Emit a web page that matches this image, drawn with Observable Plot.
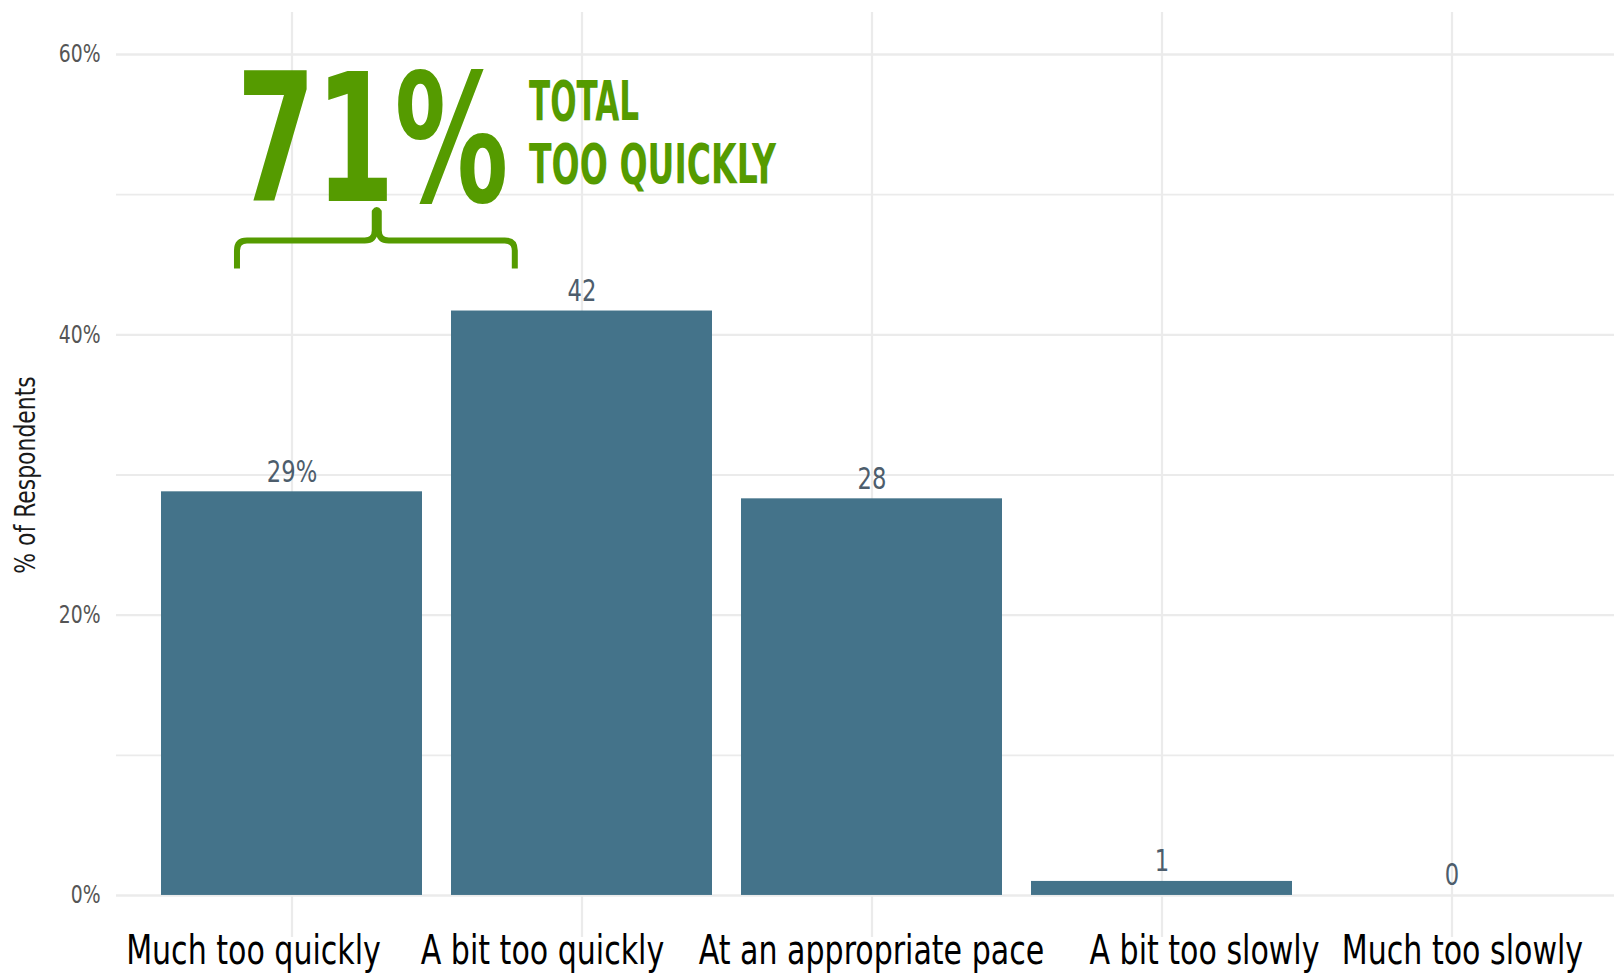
<!DOCTYPE html>
<html>
<head>
<meta charset="utf-8">
<script src="https://cdn.jsdelivr.net/npm/d3@7"></script>
<script src="https://cdn.jsdelivr.net/npm/@observablehq/plot@0.6"></script>
<style>
  html, body { margin: 0; padding: 0; background: #fff; overflow: hidden; }
  #chart svg { display: block; }
</style>
</head>
<body>
<div id="chart"></div>
<script>
// ---- data ----
const categories = ["Much too quickly", "A bit too quickly", "At an appropriate pace", "A bit too slowly", "Much too slowly"];
const shares = [28.8, 41.7, 28.3, 1.0, 0];
const valueLabels = ["29%", "42", "28", "1", "0"];
const yTicks = [0, 20, 40, 60];
const yMinorTicks = [10, 30, 50];
const yTitle = "% of Respondents";
const totalValue = "71%";
const totalLines = ["TOTAL", "TOO QUICKLY"];

// ---- layout / style ----
const FONT = "'Liberation Sans Narrow', 'Arial Narrow', 'DejaVu Sans Condensed', sans-serif";
const GREEN = "#559b00";
const BAR = "#44738a";
const GRID = "#ebebeb";
const labelNudge = [-38, -39, 0, 43, 11]; // px shift of category labels
const anno = {
  bracketLeft: -0.188, bracketRight: 0.770, bracketMid: 0.294, // offsets in category steps from first category centre
  yBar: 46.7, yLeg: 44.7, yTip: 48.9,
  bigLeft: -0.19, bigBase: 49.54,
  textLeft: 0.819, line1Base: 55.3, line2Base: 50.8
};

const rows = categories.map((c, i) => ({category: c, share: shares[i], label: valueLabels[i]}));

function annotation(...args) {
  const scales = args.find(a => a && typeof a.x === "function" && typeof a.y === "function");
  const x = scales.x, y = scales.y;
  const bw = typeof x.bandwidth === "function" ? x.bandwidth() : (x.bandwidth || 0);
  const centre = c => x(c) + bw / 2;
  const c0 = centre(categories[0]);
  const step = centre(categories[1]) - c0;
  const px = t => c0 + t * step;
  const g = d3.create("svg:g");
  const L = px(anno.bracketLeft), R = px(anno.bracketRight), M = px(anno.bracketMid);
  const yb = y(anno.yBar), yl = y(anno.yLeg), yt = y(anno.yTip);
  const r = 10;
  const path = [
    `M${L},${yl}`, `L${L},${yb + r}`, `Q${L},${yb} ${L + r},${yb}`,
    `L${M - 12},${yb}`, `Q${M - 2},${yb} ${M - 2},${yb - 10}`, `L${M - 2},${yt + 2}`,
    `Q${M},${yt - 1} ${M + 2},${yt + 2}`, `L${M + 2},${yb - 10}`, `Q${M + 2},${yb} ${M + 12},${yb}`,
    `L${R - r},${yb}`, `Q${R},${yb} ${R},${yb + r}`, `L${R},${yl}`
  ].join(" ");
  g.append("path").attr("d", path).attr("fill", "none").attr("stroke", GREEN)
    .attr("stroke-width", 6).attr("stroke-linejoin", "round");
  const big = (txt, tx, ty, size, len) => g.append("text").text(txt)
    .attr("x", tx).attr("y", ty).attr("text-anchor", "start")
    .attr("font-family", FONT).attr("font-weight", "bold").attr("font-size", size)
    .attr("fill", GREEN).attr("textLength", len).attr("lengthAdjust", "spacingAndGlyphs");
  big(totalValue, px(anno.bigLeft), y(anno.bigBase), 178, 272);
  big(totalLines[0], px(anno.textLeft), y(anno.line1Base), 55, 110);
  big(totalLines[1], px(anno.textLeft), y(anno.line2Base), 55, 247);
  // category labels below the panel
  const base = y(y.domain ? y.domain()[0] : -3) + 27;
  categories.forEach((c, i) => {
    g.append("text").text(c)
      .attr("x", centre(c) + labelNudge[i]).attr("y", base)
      .attr("text-anchor", "middle").attr("font-family", FONT).attr("font-size", 40)
      .attr("fill", "#000").attr("data-condense", 0.835);
  });
  return g.node();
}

const chart = Plot.plot({
  width: 1614,
  height: 974,
  marginTop: 12,
  marginBottom: 37,
  marginLeft: 116,
  marginRight: 0,
  style: {fontFamily: FONT, background: "#fff", overflow: "visible"},
  x: {type: "band", domain: categories, range: [116, 1626], paddingInner: 0.1, paddingOuter: 0.15, align: 0.5, axis: null},
  y: {domain: [-3, 63], axis: null},
  marks: [
    Plot.ruleY(yMinorTicks, {stroke: GRID, strokeWidth: 1.8}),
    Plot.ruleY(yTicks, {stroke: GRID, strokeWidth: 2.4}),
    Plot.ruleX(categories, {x: d => d, stroke: GRID, strokeWidth: 2.2}),
    Plot.barY(rows, {x: "category", y: "share", fill: BAR}),
    Plot.text(rows, {x: "category", y: "share", text: "label", lineAnchor: "bottom", dy: -10,
      fontSize: 30, fill: "#4d5d6c"}),
    Plot.text(yTicks, {y: d => d, text: d => d + "%", frameAnchor: "left", textAnchor: "end",
      dx: -16, fontSize: 24, fill: "#555555"}),
    Plot.text([yTitle], {y: 30, text: d => d, frameAnchor: "left", textAnchor: "middle", dx: -91, rotate: -90,
      fontSize: 29, fill: "#1a1a1a"}),
    annotation
  ]
});
document.getElementById("chart").append(chart);

// narrow the text to the condensed look of the original typeface
const factors = [0.84, 0.87, 0.84];
d3.select(chart).selectAll('g[aria-label="text"]').each(function (_, i) {
  const f = factors[i] || 0.85;
  d3.select(this).selectAll("text").each(function () {
    const w = this.getComputedTextLength();
    this.setAttribute("textLength", w * f);
    this.setAttribute("lengthAdjust", "spacingAndGlyphs");
  });
});
d3.select(chart).selectAll("text[data-condense]").each(function () {
  const w = this.getComputedTextLength();
  this.setAttribute("textLength", w * +this.getAttribute("data-condense"));
  this.setAttribute("lengthAdjust", "spacingAndGlyphs");
});
</script>
</body>
</html>
